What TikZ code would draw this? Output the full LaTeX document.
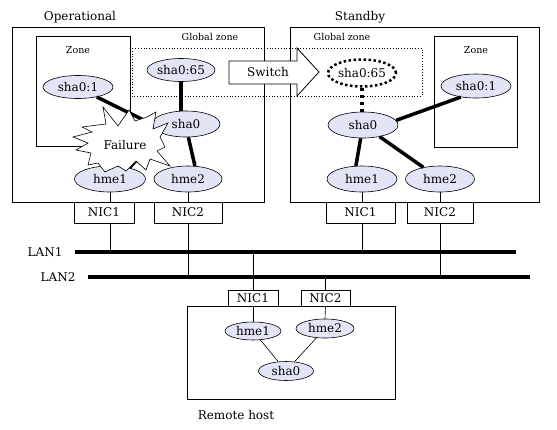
\documentclass[tikz,border=0pt]{standalone}
\usepackage{fontspec}
\setmainfont{DejaVu Serif}
\usetikzlibrary{shapes.geometric, positioning}
\definecolor{ifblue}{RGB}{228,228,247}
\newcommand{\lblsize}{\fontsize{12}{14}\selectfont}
\newcommand{\tagsize}{\fontsize{9.5}{11}\selectfont}

\begin{document}
\begin{tikzpicture}[x=1pt, y=-1pt,
    host_box/.style={draw, line width=0.8pt},
    if_node/.style={ellipse, draw, line width=0.6pt, fill=ifblue, inner sep=0pt, font=\lblsize, minimum width=69, minimum height=26},
    ghost_if/.style={ellipse, draw, line width=2.5pt, dash pattern=on 2.5pt off 2.5pt, inner sep=0pt, font=\lblsize, minimum width=68, minimum height=27},
    small_if/.style={if_node, minimum width=56, minimum height=18},
    nic_box/.style={draw, fill=white, line width=0.8pt, inner sep=0pt, font=\lblsize, minimum height=21},
    small_nic/.style={nic_box, minimum height=16},
    thick_link/.style={line width=3.5pt},
    ghost_link/.style={line width=3.5pt, dash pattern=on 3.5pt off 3.5pt},
    thin_link/.style={line width=0.6pt},
    lan_bus/.style={line width=4pt},
    title/.style={font=\lblsize},
    tag/.style={font=\tagsize}
]
    \useasboundingbox (0,0) rectangle (557,429);

    % ========== HOST FRAMES ==========
    \draw[host_box] (12,27) rectangle (264,202);
    \draw[host_box] (290,27) rectangle (539,202);
    \draw[host_box] (36,36) rectangle (130,146);
    \draw[host_box] (434,36) rectangle (517,147);
    \draw[line width=0.8pt, dotted] (132,48) rectangle (422,96);
    \draw[host_box] (187,306) rectangle (395,399);

    \node[title] (op_title) at (80,17) {Operational};
    \node[title] (sb_title) at (360,17) {Standby};
    \node[tag] (gz_left) at (210,37) {Global zone};
    \node[tag] (gz_right) at (342,37) {Global zone};
    \node[tag] (zn_left) at (78,50) {Zone};
    \node[tag] (zn_right) at (476,50) {Zone};
    \node[title] (rm_title) at (236,415) {Remote host};

    % ========== OPERATIONAL NODE ==========
    \node[if_node, minimum width=68, minimum height=23] (g65L) at (181,70) {sha0:65};
    \node[if_node, minimum width=70, minimum height=23] (z1L) at (78,87) {sha0:1};
    \node[if_node, minimum width=68] (sha0L) at (186,124) {sha0};
    \node[if_node, minimum width=71] (hme1L) at (110,179) {hme1};
    \node[if_node, minimum width=68] (hme2L) at (188,179) {hme2};
    \node[nic_box, minimum width=60] (nicL1) at (104,212.5) {NIC1};
    \node[nic_box, minimum width=68] (nicL2) at (188,212.5) {NIC2};

    \draw[thick_link] (g65L.south) -- (g65L.south |- sha0L.north);
    \draw[thick_link] (z1L.-28) -- (sha0L.west);
    \draw[thick_link] (hme1L.30) -- (sha0L.200);
    \draw[thick_link] (sha0L.-80) -- (hme2L.62);

    % ========== STANDBY NODE ==========
    \node[ghost_if] (g65R) at (362,73) {sha0:65};
    \node[if_node, minimum width=70, minimum height=24] (z1R) at (476,86) {sha0:1};
    \node[if_node, minimum width=70] (sha0R) at (363,125) {sha0};
    \node[if_node, minimum width=70] (hme1R) at (362,179) {hme1};
    \node[if_node, minimum width=69] (hme2R) at (440,179) {hme2};
    \node[nic_box, minimum width=69] (nicR1) at (360.5,212.5) {NIC1};
    \node[nic_box, minimum width=66] (nicR2) at (440,212.5) {NIC2};

    \draw[ghost_link] (g65R.south) -- (g65R.south |- sha0R.north);
    \draw[thick_link] (sha0R.8) -- (z1R.-144);
    \draw[thick_link] (sha0R.-100) -- (hme1R.115);
    \draw[thick_link] (sha0R) -- (hme2R);

    % ========== LAN ==========
    \coordinate (lan1w) at (75,252);
    \coordinate (lan1e) at (516,252);
    \coordinate (lan2w) at (88,277);
    \coordinate (lan2e) at (530,277);
    \draw[lan_bus] (lan1w) -- (lan1e);
    \draw[lan_bus] (lan2w) -- (lan2e);
    \node[title, left=9pt of lan1w] (lan1) {LAN1};
    \node[title, left=9pt of lan2w] (lan2) {LAN2};

    \draw[thin_link] (hme1L.south) -- (hme1L.south |- nicL1.north);
    \draw[thin_link] (hme1L.south |- nicL1.south) -- (hme1L.south |- lan1w);
    \draw[thin_link] (hme2L.south) -- (hme2L.south |- nicL2.north);
    \draw[thin_link] (hme2L.south |- nicL2.south) -- (hme2L.south |- lan2w);
    \draw[thin_link] (hme1R.south) -- (hme1R.south |- nicR1.north);
    \draw[thin_link] (hme1R.south |- nicR1.south) -- (hme1R.south |- lan1w);
    \draw[thin_link] (hme2R.south) -- (hme2R.south |- nicR2.north);
    \draw[thin_link] (hme2R.south |- nicR2.south) -- (hme2R.south |- lan2w);

    % ========== REMOTE HOST ==========
    \node[small_nic, minimum width=50] (nicX1) at (253,298) {NIC1};
    \node[small_nic, minimum width=49] (nicX2) at (325.5,298.5) {NIC2};
    \node[small_if] (hme1X) at (253,331) {hme1};
    \node[small_if, minimum width=58, minimum height=19] (hme2X) at (325,328.5) {hme2};
    \node[small_if, minimum width=55, minimum height=19] (sha0X) at (286,371) {sha0};

    \draw[thin_link] (nicX1.north) -- (nicX1.north |- lan1w);
    \draw[thin_link] (nicX2.north) -- (nicX2.north |- lan2w);
    \draw[thin_link] (nicX1.south) -- (hme1X.north);
    \draw[thin_link] (nicX2.south) -- (hme2X.north);
    \draw[thin_link] (hme1X) -- (sha0X);
    \draw[thin_link] (hme2X) -- (sha0X);

    % Failure burst
    \draw[fill=white, line width=0.6pt] (103,107) -- (118,126) -- (129,110) -- (135,121)
        -- (147,117) -- (156,112) -- (153,129) -- (168,123) -- (160,137) -- (165,147)
        -- (157,151) -- (170,166) -- (150,159) -- (146,170) -- (136,161) -- (126,171)
        -- (118,166) -- (105,172) -- (98,163) -- (88,165) -- (91,153) -- (76,150)
        -- (88,143) -- (73,137) -- (92,132) -- (82,127) -- (106,124) -- cycle;
    \node[title] (failure) at (125,145) {Failure};

    % Switch arrow
    \draw[fill=white, line width=0.8pt] (229,61) -- (297,61) -- (297,48) -- (319,72)
        -- (297,96) -- (297,84) -- (229,84) -- cycle;
    \node[title] (switch) at (268,72) {Switch};

\end{tikzpicture}
\end{document}
